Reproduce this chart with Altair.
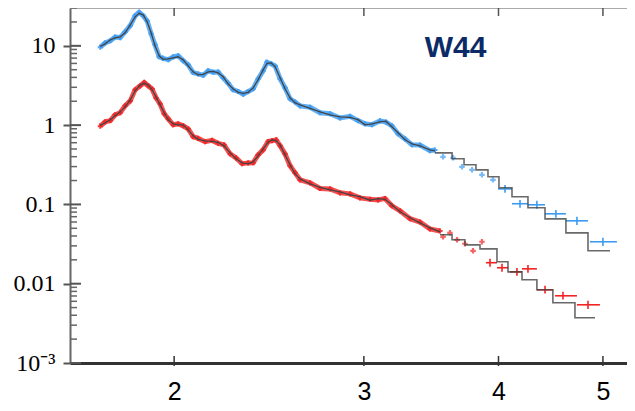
import altair as alt
import pandas as pd

# ---------------- data ----------------
# Upper (blue) spectrum: smooth part of model and measured values
blue_x = [1.708, 1.726, 1.745, 1.763, 1.782, 1.801, 1.821, 1.840, 1.856, 1.872,
          1.888, 1.904, 1.920, 1.937, 1.953, 1.975, 1.996, 2.017, 2.039, 2.061,
          2.083, 2.105, 2.128, 2.151, 2.174, 2.197, 2.221, 2.244, 2.268, 2.293,
          2.318, 2.343, 2.368, 2.393, 2.419, 2.439, 2.461, 2.482, 2.508, 2.535,
          2.562, 2.590, 2.618, 2.674, 2.732, 2.791, 2.851, 2.913, 2.963, 3.007,
          3.052, 3.105, 3.145, 3.185, 3.227, 3.276, 3.325, 3.382, 3.455, 3.492]
blue_model = [9.86, 10.6, 11.9, 12.6, 13.0, 14.6, 18.4, 23.2, 25.7, 24.6,
              20.1, 14.6, 10.0, 7.48, 6.76, 6.86, 7.06, 7.27, 6.66, 5.60,
              4.70, 4.31, 4.37, 4.70, 4.77, 4.56, 4.07, 3.32, 2.87, 2.59,
              2.52, 2.59, 2.95, 3.73, 4.98, 6.02, 6.10, 5.43, 3.95, 2.87,
              2.21, 1.91, 1.80, 1.63, 1.47, 1.35, 1.27, 1.25, 1.17, 1.01,
              1.04, 1.10, 1.12, 0.952, 0.800, 0.653, 0.581, 0.548, 0.488, 0.474]
blue_data = [9.6, 10.9, 11.6, 12.9, 12.7, 15.0, 18.0, 23.9, 26.5, 24.0,
             20.6, 14.2, 10.3, 7.3, 6.95, 6.7, 7.25, 7.5, 6.5, 5.75,
             4.6, 4.42, 4.25, 4.85, 4.65, 4.68, 3.95, 3.4, 2.8, 2.66,
             2.45, 2.65, 2.88, 3.82, 4.85, 6.2, 5.95, 5.55, 3.85, 2.95,
             2.15, 1.96, 1.75, 1.68, 1.43, 1.39, 1.23, 1.29, 1.14, 1.04,
             1.01, 1.13, 1.09, 0.98, 0.78, 0.67, 0.565, 0.56, 0.475, 0.486]
blue_step_x = [3.492, 3.622, 3.716, 3.812, 3.911, 4.004, 4.117, 4.260, 4.418, 4.620, 4.843, 5.076]
blue_step_y = [0.447, 0.376, 0.316, 0.273, 0.223, 0.162, 0.125, 0.0906, 0.0658, 0.0438, 0.0260, 0.0260]
blue_tail_x = [3.553, 3.630, 3.700, 3.780, 3.861, 3.953]
blue_tail_y = [0.398, 0.387, 0.298, 0.273, 0.236, 0.204]
blue_pt_x = [4.056, 4.188, 4.342, 4.522, 4.730, 5.000]
blue_pt_y = [0.157, 0.102, 0.0989, 0.0761, 0.0621, 0.0338]
blue_pt_xlo = [3.996, 4.117, 4.260, 4.418, 4.620, 4.863]
blue_pt_xhi = [4.117, 4.260, 4.418, 4.620, 4.843, 5.152]
blue_pt_ylo = [0.140, 0.091, 0.088, 0.068, 0.055, 0.030]
blue_pt_yhi = [0.176, 0.114, 0.111, 0.085, 0.070, 0.038]

# Lower (red) spectrum
red_x = [1.708, 1.726, 1.745, 1.763, 1.782, 1.801, 1.821, 1.840, 1.860, 1.876,
         1.892, 1.908, 1.924, 1.941, 1.958, 1.975, 1.996, 2.017, 2.039, 2.061,
         2.083, 2.105, 2.137, 2.169, 2.197, 2.225, 2.254, 2.283, 2.313, 2.343,
         2.368, 2.393, 2.419, 2.445, 2.466, 2.487, 2.508, 2.535, 2.562, 2.590,
         2.618, 2.674, 2.732, 2.791, 2.851, 2.913, 2.975, 3.040, 3.092, 3.138,
         3.185, 3.241, 3.311, 3.382, 3.455, 3.530]
red_model = [0.994, 1.07, 1.17, 1.31, 1.47, 1.70, 2.08, 2.71, 3.22, 3.37,
             3.22, 2.79, 2.27, 1.80, 1.43, 1.17, 1.04, 1.01, 1.01, 0.872,
             0.733, 0.662, 0.634, 0.625, 0.607, 0.548, 0.447, 0.376, 0.335, 0.325,
             0.344, 0.410, 0.502, 0.607, 0.653, 0.634, 0.564, 0.422, 0.316, 0.243,
             0.210, 0.182, 0.164, 0.153, 0.144, 0.132, 0.125, 0.113, 0.118, 0.116,
             0.0989, 0.0807, 0.0678, 0.0586, 0.0507, 0.0451]
red_data = [0.97, 1.10, 1.14, 1.35, 1.43, 1.75, 2.02, 2.79, 3.13, 3.45,
            3.14, 2.86, 2.21, 1.85, 1.39, 1.20, 1.01, 1.04, 0.98, 0.895,
            0.715, 0.68, 0.618, 0.642, 0.59, 0.563, 0.435, 0.386, 0.326, 0.334,
            0.335, 0.421, 0.488, 0.622, 0.637, 0.651, 0.55, 0.433, 0.307, 0.25,
            0.204, 0.187, 0.159, 0.157, 0.14, 0.136, 0.121, 0.116, 0.114, 0.119,
            0.096, 0.083, 0.066, 0.060, 0.049, 0.0463]
red_step_x = [3.530, 3.622, 3.723, 3.845, 3.987, 4.082, 4.206, 4.342, 4.493, 4.710, 4.916]
red_step_y = [0.0414, 0.0358, 0.0309, 0.0275, 0.0189, 0.0141, 0.0112, 0.00838, 0.00574, 0.00372, 0.00372]
red_tail_x = [3.553, 3.606, 3.661, 3.723, 3.788, 3.861]
red_tail_y = [0.0390, 0.0438, 0.0358, 0.0319, 0.0260, 0.0338]
red_pt_x = [3.928, 4.030, 4.161, 4.260, 4.418, 4.591, 4.843]
red_pt_y = [0.0184, 0.0159, 0.0141, 0.0154, 0.00838, 0.00704, 0.00542]
red_pt_xlo = [3.894, 3.987, 4.099, 4.206, 4.342, 4.513, 4.730]
red_pt_xhi = [3.987, 4.082, 4.206, 4.342, 4.493, 4.730, 4.968]
red_pt_ylo = [0.0164, 0.0142, 0.0126, 0.0137, 0.0075, 0.0063, 0.0048]
red_pt_yhi = [0.0206, 0.0178, 0.0158, 0.0172, 0.0094, 0.0079, 0.0061]

x_ticks = [2, 3, 4, 5]
y_major = [0.001, 0.01, 0.1, 1, 10]
y_minor = [m * 10.0 ** k for k in range(-3, 2) for m in range(2, 10) if m * 10.0 ** k <= 30]

label_text = ["W44"]
label_x = [3.649]
label_y = [9.4]

BLUE = "#3d9cf2"
RED = "#f22323"
GRAY = "#444444"

W, H = 557, 355

# ---------------- scales / axes ----------------
xscale = alt.Scale(type="log", domain=[1.601, 5.264], nice=False)
yscale = alt.Scale(type="log", domain=[0.001, 30], nice=False)
xaxis = alt.Axis(values=x_ticks, format="d", title=None, grid=False, ticks=False,
                 labelFont="Liberation Sans", labelFontSize=25, labelColor="black",
                 labelPadding=16, domainColor="#333333", domainWidth=3, labelFlush=False)
yaxis = alt.Axis(values=y_major, title=None, grid=False,
                 labelExpr="datum.value > 5 ? '10' : datum.value > 0.5 ? '1' : datum.value > 0.05 ? '0.1' : datum.value > 0.005 ? '0.01' : '10⁻³'",
                 labelFont="Liberation Serif", labelFontSize=24, labelColor="black",
                 tickSize=7, tickWidth=2, tickColor="#555555", labelPadding=8,
                 domainColor="#666666", domainWidth=2, labelFlush=False)


def X(f="x"):
    return alt.X(f"{f}:Q", scale=xscale, axis=xaxis)


def Y(f="y"):
    return alt.Y(f"{f}:Q", scale=yscale, axis=yaxis)


def df(**kw):
    return pd.DataFrame(kw)


layers = []

# frame top line and inward ticks
layers.append(alt.Chart(df(y=[30])).mark_rule(color="#aaaaaa", strokeWidth=2).encode(
    y=Y(), x=alt.value(0), x2=alt.value(W)))
layers.append(alt.Chart(df(y=y_minor)).mark_rule(color="#666", strokeWidth=1.5).encode(
    y=Y(), x=alt.value(0), x2=alt.value(7)))
layers.append(alt.Chart(df(y=y_major)).mark_rule(color="#555", strokeWidth=2).encode(
    y=Y(), x=alt.value(0), x2=alt.value(11)))
layers.append(alt.Chart(df(x=x_ticks)).mark_rule(color="#555", strokeWidth=1.5).encode(
    x=X(), y=alt.value(0), y2=alt.value(8)))
layers.append(alt.Chart(df(x=x_ticks)).mark_rule(color="#333", strokeWidth=1.5).encode(
    x=X(), y=alt.value(H - 7), y2=alt.value(H + 3)))

# dense measured data (band + points)
for xs, ys, col in [(blue_x, blue_data, BLUE), (red_x, red_data, RED)]:
    d = df(x=xs, y=ys)
    layers.append(alt.Chart(d).mark_line(color=col, strokeWidth=5, opacity=0.8).encode(x=X(), y=Y()))
    layers.append(alt.Chart(d).mark_point(shape="cross", filled=True, size=26, color=col, opacity=0.9).encode(x=X(), y=Y()))

# tail points
for xs, ys, col in [(blue_tail_x, blue_tail_y, BLUE), (red_tail_x, red_tail_y, RED)]:
    layers.append(alt.Chart(df(x=xs, y=ys)).mark_point(shape="cross", filled=True, size=30, color=col).encode(x=X(), y=Y()))

# binned points with error bars
for xs, ys, xlo, xhi, ylo, yhi, col in [
        (blue_pt_x, blue_pt_y, blue_pt_xlo, blue_pt_xhi, blue_pt_ylo, blue_pt_yhi, BLUE),
        (red_pt_x, red_pt_y, red_pt_xlo, red_pt_xhi, red_pt_ylo, red_pt_yhi, RED)]:
    d = df(x=xs, y=ys, xlo=xlo, xhi=xhi, ylo=ylo, yhi=yhi)
    layers.append(alt.Chart(d).mark_rule(color=col, strokeWidth=1.6).encode(
        x=X("xlo"), x2="xhi:Q", y=Y()))
    layers.append(alt.Chart(d).mark_rule(color=col, strokeWidth=1.6).encode(
        x=X(), y=Y("ylo"), y2="yhi:Q"))

# model curves
for xs, ys in [(blue_x, blue_model), (red_x, red_model)]:
    layers.append(alt.Chart(df(x=xs, y=ys)).mark_line(color=GRAY, strokeWidth=1.3).encode(x=X(), y=Y()))
for xs, ys in [(blue_step_x, blue_step_y), (red_step_x, red_step_y)]:
    layers.append(alt.Chart(df(x=xs, y=ys)).mark_line(color=GRAY, strokeWidth=1.6, interpolate="step-after", opacity=0.8).encode(x=X(), y=Y()))

# label
layers.append(alt.Chart(df(x=label_x, y=label_y, t=label_text)).mark_text(
    font="Liberation Sans", fontSize=30, fontWeight="bold", color="#0b2a66",
    align="center", baseline="middle").encode(x=X(), y=Y(), text="t:N"))

chart = alt.layer(*layers).properties(
    width=W, height=H, autosize="none",
    padding={"left": 62, "top": 0, "right": 0, "bottom": 40},
).configure_view(stroke=None)

chart.save("out.html", embed_options={"renderer": "svg", "actions": False})
